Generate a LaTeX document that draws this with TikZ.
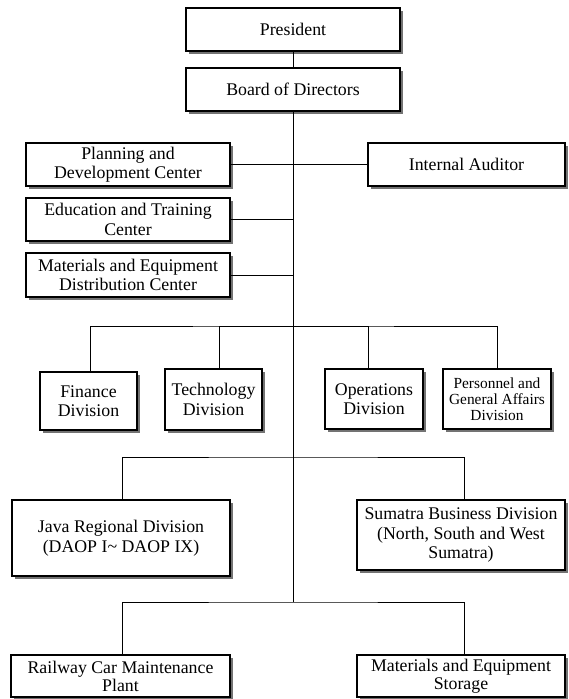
\documentclass[tikz,border=0pt]{standalone}
\usepackage{fontspec}
\setmainfont{Liberation Serif}
\usetikzlibrary{shadows}
\begin{document}
\begin{tikzpicture}[x=1pt,y=-1pt,
  box/.style={draw=black, line width=1.1pt, fill=white, inner sep=0pt, align=center,
    font=\fontsize{17.8}{19.5}\selectfont,
    drop shadow={shadow xshift=2.5pt, shadow yshift=-2.5pt, fill=black!55, opacity=1}},
  smallbox/.style={box, font=\fontsize{15.4}{16}\selectfont},
  link/.style={draw=black, line width=1pt}]
\useasboundingbox (0,0) rectangle (568,699);
% top
\node[box, minimum width=214pt, minimum height=43pt] (pres) at (293,29.5) {President};
\node[box, minimum width=214pt, minimum height=43pt] (board) at (293,89.5) {Board of Directors};
% staff centres
\node[box, minimum width=204pt, minimum height=43pt] (plan) at (128,164.5) {Planning and\\Development Center};
\node[box, minimum width=204pt, minimum height=43pt] (edu) at (128,219.5) {Education and Training\\Center};
\node[box, minimum width=204pt, minimum height=44pt] (matd) at (128,275) {Materials and Equipment\\Distribution Center};
\node[box, minimum width=197pt, minimum height=43pt] (aud) at (466.5,164.5) {Internal Auditor};
% divisions
\node[box, minimum width=97pt, minimum height=58pt] (fin) at (88.5,401) {Finance\\Division};
\node[box, minimum width=97pt, minimum height=61pt] (tech) at (213.5,399.5) {Technology\\Division};
\node[box, minimum width=98pt, minimum height=60pt] (ops) at (374,399) {Operations\\Division};
\node[smallbox, minimum width=108pt, minimum height=60pt] (pers) at (497,399) {Personnel and\\General Affairs\\Division};
% regional
\node[box, minimum width=218pt, minimum height=76pt] (java) at (121,538) {Java Regional Division\\(DAOP I\textasciitilde\ DAOP IX)};
\node[box, minimum width=208pt, minimum height=70pt] (sum) at (461,535) {Sumatra Business Division\\(North, South and West\\Sumatra)};
% bottom
\node[box, minimum width=219pt, minimum height=42pt, font=\fontsize{17.8}{18}\selectfont] (rail) at (120.5,676) {Railway Car Maintenance\\Plant};
\node[box, minimum width=208pt, minimum height=42pt, font=\fontsize{17.8}{18}\selectfont] (stor) at (461,676) {Materials and Equipment\\Storage};
% coordinates on the trunk
\coordinate (divbar) at (293,326);
\coordinate (regbar) at (293,457);
\coordinate (botbar) at (293,602);
% connectors
\draw[link] (pres.south) -- (board.north);
\draw[link] (board.south) -- (botbar);
\draw[link] (plan.east) -- (plan.east -| board.south);
\draw[link] (edu.east) -- (edu.east -| board.south);
\draw[link] (matd.east) -- (matd.east -| board.south);
\draw[link] (aud.west) -- (aud.west -| board.south);
\draw[link] ([xshift=1.5pt]fin.north) |- (divbar) -| ([xshift=0pt]pers.north);
\draw[link] ([xshift=5.5pt]tech.north) |- (divbar);
\draw[link] ([xshift=-6pt]ops.north) |- (divbar);
\draw[link] ([xshift=1pt]java.north) |- (regbar) -| ([xshift=3pt]sum.north);
\draw[link] ([xshift=1.5pt]rail.north) |- (botbar) -| ([xshift=3pt]stor.north);
\end{tikzpicture}
\end{document}
